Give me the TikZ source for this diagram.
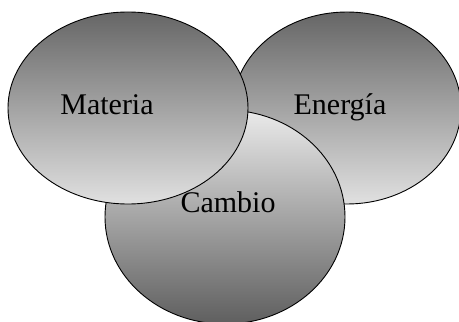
\documentclass[tikz,border=0pt]{standalone}
\usepackage{fontspec}
\setmainfont{Liberation Serif}
\usetikzlibrary{shapes.geometric}

\begin{document}
\begin{tikzpicture}[x=1pt,y=1pt,every node/.style={ellipse,draw,line width=0.9pt,inner sep=0pt},up/.style={top color=black!60,bottom color=black!12},down/.style={top color=black!8,bottom color=black!63},word/.style={draw=none,rectangle,anchor=base,font=\fontsize{30}{36}\selectfont}]
	\useasboundingbox (0,0) rectangle (459,322);
	\node[up,minimum width=228pt,minimum height=192pt] (energia) at (347,214) {};
	\node[down,minimum width=240pt,minimum height=214pt] (cambio) at (225,105) {};
	\node[up,minimum width=240pt,minimum height=192pt] (materia) at (128,214) {};
	\node[word] (tmateria) at (107,207) {Materia};
	\node[word] (tenergia) at (340,207) {Energía};
	\node[word] (tcambio) at (228,109) {Cambio};
\end{tikzpicture}
\end{document}
